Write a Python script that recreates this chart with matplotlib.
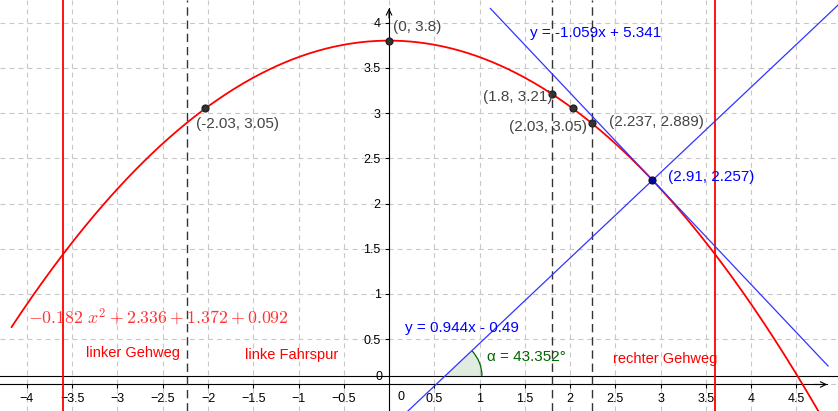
import numpy as np
import matplotlib
matplotlib.use("Agg")
import matplotlib.pyplot as plt
from matplotlib.patches import Wedge, Arc

plt.rcParams['font.family'] = ['Liberation Sans', 'DejaVu Sans']
plt.rcParams['mathtext.fontset'] = 'cm'
plt.rcParams['lines.scale_dashes'] = False

# ---- data ----
a_coef = -0.182
c_coef = 3.8
curve_xmin, curve_xmax = -4.17, 4.96

pts_x = [0, -2.03, 1.8, 2.03, 2.237]
pts_y = [3.8, 3.05, 3.21, 3.05, 2.889]
pts_lbl = ["(0, 3.8)", "(-2.03, 3.05)", "(1.8, 3.21)", "(2.03, 3.05)", "(2.237, 2.889)"]
lbl_pos = [(0.048, 3.95), (-2.133, 2.875), (1.042, 3.18), (1.329, 2.849), (2.434, 2.897)]

tp_x, tp_y = 2.91, 2.257
tan_m, tan_b = -1.059, 5.341
perp_m, perp_b = 0.944, -0.49
alpha_deg = 43.352
road_y = 0.092

red_vlines = [-3.6, 3.6]
dash_vlines = [-2.237, 1.8, 2.237]

xticks = [-4, -3.5, -3, -2.5, -2, -1.5, -1, -0.5, 0.5, 1, 1.5, 2, 2.5, 3, 3.5, 4, 4.5]
yticks = [0.5, 1, 1.5, 2, 2.5, 3, 3.5, 4]

XMIN, XMAX = -4.298, 4.96
YMIN, YMAX = -0.293, 4.249

fig = plt.figure(figsize=(8.38, 4.11), dpi=100)
ax = fig.add_axes([0, 0, 1, 1])
ax.set_xlim(XMIN, XMAX)
ax.set_ylim(YMIN, YMAX)

# grid
grid_vals_x = np.arange(-4.0, 5.0, 0.5)
grid_vals_y = np.arange(0.0, 4.5, 0.5)
for gx in grid_vals_x:
    ax.axvline(gx, color='#c8c8c8', lw=0.8, dashes=(3.5, 3), zorder=0)
for gy in grid_vals_y:
    ax.axhline(gy, color='#c8c8c8', lw=0.8, dashes=(3.5, 3), zorder=0)

# axes via spines
for s in ['top', 'right']:
    ax.spines[s].set_visible(False)
ax.spines['left'].set_position(('data', 0))
ax.spines['bottom'].set_position(('data', 0))
ax.spines['left'].set_bounds(YMIN, 4.157)
ax.spines['bottom'].set_bounds(XMIN, 4.84)
ax.spines['left'].set_linewidth(0.8)
ax.spines['bottom'].set_linewidth(0.8)
ax.set_xticks(xticks)
ax.set_yticks(yticks)
ax.set_xticklabels([("−" + f"{abs(v):g}") if v < 0 else f"{v:g}" for v in xticks])
ax.set_yticklabels([f"{v:g}" for v in yticks])
ax.tick_params(axis='both', direction='out', length=3, width=0.8, pad=3, labelsize=9, colors='black')
ax.text(0.09, -0.14, "0", fontsize=9, ha='left', va='center')
ax.text(-0.07, 0.085, "0", fontsize=9, ha='right', va='center')
ax.annotate('', xy=(0, 4.157), xytext=(0, 4.05),
            arrowprops=dict(arrowstyle='->', lw=0.8, color='black', shrinkA=0, shrinkB=0))
ax.annotate('', xy=(4.84, 0), xytext=(4.7, 0),
            arrowprops=dict(arrowstyle='->', lw=0.8, color='black', shrinkA=0, shrinkB=0))

# road line
ax.axhline(road_y, color='black', lw=0.8, zorder=2)

# vertical lines
for vx in red_vlines:
    ax.axvline(vx, color='#ff0000', lw=1.3, zorder=3)
for vx in dash_vlines:
    ax.axvline(vx, color='#333333', lw=1.0, dashes=(6, 3.5), zorder=3)

# parabola
xs = np.linspace(curve_xmin, curve_xmax, 400)
ax.plot(xs, a_coef * xs**2 + c_coef, color='#ff0000', lw=1.3, zorder=4)

# tangent & perpendicular
xt = np.linspace(1.12, 4.85, 2)
ax.plot(xt, tan_m * xt + tan_b, color='#3333ff', lw=0.9, zorder=5)
xp = np.linspace(XMIN, XMAX, 2)
ax.plot(xp, perp_m * xp + perp_b, color='#3333ff', lw=0.9, zorder=5)

# angle sector
vx0 = (road_y - perp_b) / perp_m
ax.add_patch(Wedge((vx0, road_y), 0.41, 0, alpha_deg, facecolor='#006400', alpha=0.12,
                   edgecolor='none', zorder=2))
ax.add_patch(Arc((vx0, road_y), 0.82, 0.82, theta1=0, theta2=alpha_deg,
                 color='#006400', lw=0.9, zorder=3))

# points
ax.scatter(pts_x, pts_y, s=24, color='#333333', edgecolors='#222222', zorder=6)
ax.scatter([tp_x], [tp_y], s=26, color='#0000aa', edgecolors='#111111', linewidths=0.8, zorder=7)

for (lx, ly), t in zip(lbl_pos, pts_lbl):
    ax.text(lx, ly, t, fontsize=11, color='#444444', ha='left', va='center', zorder=8)
ax.text(3.086, 2.296, "(2.91, 2.257)", fontsize=11, color='#0000ff', ha='left', va='center', zorder=8)
ax.text(1.558, 3.88, "y = -1.059x + 5.341", fontsize=11, color='#0000ff', ha='left', va='center', zorder=8)
ax.text(0.177, 0.621, "y = 0.944x - 0.49", fontsize=11, color='#0000ff', ha='left', va='center', zorder=8)
ax.text(1.08, 0.307, "α = 43.352°", fontsize=11, color='#006400', ha='left', va='center', zorder=8)

ax.text(-3.348, 0.345, "linker Gehweg", fontsize=10.5, color='#ff0000', ha='left', va='center', zorder=8)
ax.text(-1.591, 0.326, "linke Fahrspur", fontsize=10.5, color='#ff0000', ha='left', va='center', zorder=8)
ax.text(2.47, 0.28, "rechter Gehweg", fontsize=10.5, color='#ff0000', ha='left', va='center', zorder=8)

ax.text(-3.99, 0.735, r"$-0.182\ x^2 + 2.336 + 1.372 + 0.092$", fontsize=12.8,
        color='#ff3333', ha='left', va='center', zorder=8)

fig.savefig("out.png", dpi=100)
